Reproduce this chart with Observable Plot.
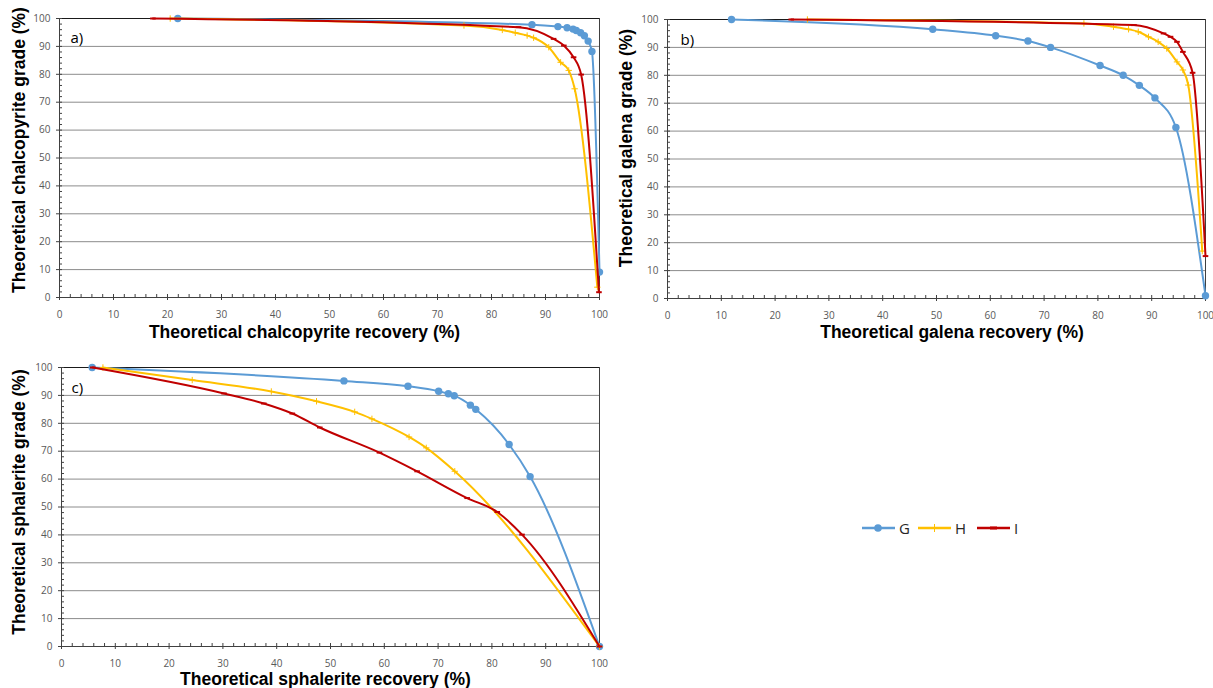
<!DOCTYPE html>
<html>
<head>
<meta charset="utf-8">
<script src="https://cdn.jsdelivr.net/npm/d3@7"></script>
<script src="https://cdn.jsdelivr.net/npm/@observablehq/plot@0.6"></script>
<style>
  body { margin: 0; background: #fff; }
  #fig { position: relative; width: 1213px; height: 688px; overflow: hidden; background: #fff; }
  .panel { position: absolute; }
  .xt, .yt { position: absolute; font-family: "Liberation Sans", Arial, sans-serif; font-weight: bold;
             font-size: 17.5px; color: #000; white-space: nowrap; line-height: 1; }
  .xt { transform: translate(-50%, -50%); }
  .yt { transform: translate(-50%, -50%) rotate(-90deg); }
  .leg { position: absolute; display: flex; align-items: center; font-family: "Open Sans", sans-serif;
         font-size: 15px; color: #262626; height: 20px; }
  .leg svg { display: block; margin-right: 4px; }
</style>
</head>
<body>
<div id="fig"></div>
<script>
// ---- a) chalcopyrite: theoretical recovery (%) vs grade (%)
const chalcoG_rec   = [21.9, 87.5, 92.3, 94.0, 95.1, 95.7, 96.5, 97.2, 97.9, 98.6, 100];
const chalcoG_grade = [100, 97.8, 97.1, 96.7, 96.2, 95.7, 94.9, 93.8, 91.9, 88.2, 9.1];
const chalcoH_rec   = [20.5, 74.9, 82.0, 84.4, 86.6, 87.8, 90.6, 92.8, 94.3, 95.4, 99.6];
const chalcoH_grade = [100, 97.5, 95.9, 94.9, 93.9, 93.1, 89.7, 84.3, 81.4, 74.8, 3.7];
const chalcoI_rec   = [17.3, 85.0, 91.5, 93.4, 95.2, 96.6, 99.9];
const chalcoI_grade = [100, 96.9, 92.7, 90.3, 86.1, 79.9, 1.9];

// ---- b) galena
const galenaG_rec   = [11.9, 49.3, 61.0, 67.0, 71.2, 80.4, 84.7, 87.7, 90.6, 94.5, 100];
const galenaG_grade = [100, 96.5, 94.2, 92.3, 90.0, 83.5, 80.0, 76.4, 71.9, 61.3, 1.0];
const galenaH_rec   = [26.0, 77.4, 82.9, 85.7, 87.5, 89.4, 91.2, 92.8, 94.7, 95.8, 96.8, 99.4];
const galenaH_grade = [100, 98.6, 97.4, 96.5, 95.6, 93.8, 92.0, 89.6, 84.8, 81.9, 76.5, 17.0];
const galenaI_rec   = [23.0, 86.7, 92.2, 93.5, 94.7, 95.8, 97.6, 100];
const galenaI_grade = [100, 98.0, 95.0, 93.8, 92.0, 88.4, 80.9, 15.2];

// ---- c) sphalerite
const sphalG_rec   = [5.7, 52.5, 64.4, 70.1, 71.9, 73.0, 76.0, 77.0, 83.2, 87.1, 100];
const sphalG_grade = [100, 95.2, 93.3, 91.5, 90.6, 89.9, 86.5, 85.0, 72.4, 60.9, 0];
const sphalH_rec   = [7.7, 24.3, 39.0, 47.4, 54.5, 57.7, 64.6, 67.8, 73.1, 100];
const sphalH_grade = [100, 95.5, 91.4, 87.9, 84.1, 81.6, 75.1, 71.2, 62.8, 0];
const sphalI_rec   = [5.8, 30.2, 37.6, 42.9, 48.0, 59.1, 66.1, 75.4, 81.0, 85.6, 100];
const sphalI_grade = [100, 90.7, 87.1, 83.5, 78.5, 69.5, 62.8, 53.2, 48.2, 40.1, 0];

const seriesNames = ["G", "H", "I"];
const seriesColors = ["#5B9BD5", "#FFC000", "#C00000"];
const majorTicks = d3.range(0, 101, 10);
const minorTicks = d3.range(0, 101, 2).filter(v => v % 10 !== 0);

// short horizontal dash used as the marker of series I
const dashSymbol = {
  draw(context, size) {
    const r = Math.sqrt(size / Math.PI);
    context.moveTo(-r, 0);
    context.lineTo(r, 0);
  }
};

function seriesMarks(name, rec, grade, color) {
  const data = d3.zip(rec, grade);
  const line = Plot.line(data, {x: d => d[0], y: d => d[1], stroke: color, strokeWidth: 2, curve: "monotone-x"});
  let dots;
  if (name === "G") dots = Plot.dot(data, {x: d => d[0], y: d => d[1], r: 3.7, fill: color, stroke: "none"});
  else if (name === "H") dots = Plot.dot(data, {x: d => d[0], y: d => d[1], r: 2.2, symbol: "plus", stroke: color, strokeWidth: 1, fill: "none"});
  else dots = Plot.dot(data, {x: d => d[0], y: d => d[1], r: 2.8, symbol: dashSymbol, stroke: color, strokeWidth: 2, fill: "none"});
  return [line, dots];
}

function panel({width, height, ml, mr, mt, mb, tag, tagDx, tagDy, series}) {
  const pw = width - ml - mr, ph = height - mt - mb;
  const allTicks = majorTicks.concat(minorTicks);
  return Plot.plot({
    width, height,
    marginLeft: ml, marginRight: mr, marginTop: mt, marginBottom: mb,
    x: {domain: [0, 100]},
    y: {domain: [0, 100]},
    style: {fontFamily: "Open Sans, sans-serif", fontSize: "10px", color: "#595959", background: "transparent", overflow: "visible"},
    marks: [
      Plot.gridY(majorTicks.filter(v => v > 0 && v < 100), {stroke: "#8c8c8c", strokeOpacity: 1, strokeWidth: 1}),
      Plot.ruleY([100], {stroke: "#1a1a1a", strokeWidth: 1}),
      Plot.ruleX([100], {stroke: "#404040", strokeWidth: 1}),
      // inward tick marks along both axes
      Plot.tickX(allTicks, {x: d => d, insetTop: ph - 3, stroke: "#404040"}),
      Plot.tickY(allTicks, {y: d => d, insetRight: pw - 3, stroke: "#404040"}),
      Plot.axisX({ticks: majorTicks, tickSize: 3, tickPadding: 10, label: null, stroke: "#404040"}),
      Plot.axisY({ticks: majorTicks, tickSize: 3, tickPadding: 6, label: null, stroke: "#404040"}),
      Plot.ruleX([0], {stroke: "#404040"}),
      Plot.ruleY([0], {stroke: "#404040"}),
      Plot.text([tag], {text: d => d, frameAnchor: "top-left", dx: tagDx, dy: tagDy, textAnchor: "start",
                        fontSize: 15, fill: "#000", fontFamily: "Open Sans, sans-serif"}),
      ...series.flatMap(s => seriesMarks(...s))
    ]
  });
}

const fig = document.getElementById("fig");
function place(node, left, top) {
  node.classList.add("panel");
  node.style.left = left + "px";
  node.style.top = top + "px";
  fig.appendChild(node);
}

place(panel({width: 610, height: 325, ml: 59, mr: 11, mt: 18, mb: 28, tag: "a)", tagDx: 11, tagDy: 14,
  series: [["G", chalcoG_rec, chalcoG_grade, seriesColors[0]],
           ["H", chalcoH_rec, chalcoH_grade, seriesColors[1]],
           ["I", chalcoI_rec, chalcoI_grade, seriesColors[2]]]}), 0, 0);

place(panel({width: 605, height: 326, ml: 59, mr: 8, mt: 19, mb: 28, tag: "b)", tagDx: 13, tagDy: 15,
  series: [["G", galenaG_rec, galenaG_grade, seriesColors[0]],
           ["H", galenaH_rec, galenaH_grade, seriesColors[1]],
           ["I", galenaI_rec, galenaI_grade, seriesColors[2]]]}), 608, 0);

place(panel({width: 610, height: 339, ml: 61, mr: 11, mt: 18, mb: 42, tag: "c)", tagDx: 10, tagDy: 15,
  series: [["G", sphalG_rec, sphalG_grade, seriesColors[0]],
           ["H", sphalH_rec, sphalH_grade, seriesColors[1]],
           ["I", sphalI_rec, sphalI_grade, seriesColors[2]]]}), 0, 349);

// axis titles
const titles = [
  ["xt", "Theoretical chalcopyrite recovery (%)", 304.5, 333],
  ["yt", "Theoretical chalcopyrite grade (%)", 20, 150],
  ["xt", "Theoretical galena recovery (%)", 952, 333],
  ["yt", "Theoretical galena grade (%)", 627, 148],
  ["xt", "Theoretical sphalerite recovery (%)", 325.5, 680],
  ["yt", "Theoretical sphalerite grade (%)", 20, 502]
];
for (const [cls, text, cx, cy] of titles) {
  const d = document.createElement("div");
  d.className = cls;
  d.textContent = text;
  d.style.left = cx + "px";
  d.style.top = cy + "px";
  fig.appendChild(d);
}

// legend
const legendLeft = [862, 918, 977];
seriesNames.forEach((name, i) => {
  const item = document.createElement("div");
  item.className = "leg";
  item.style.left = legendLeft[i] + "px";
  item.style.top = "518px";
  const svg = d3.create("svg").attr("width", 33).attr("height", 20);
  svg.append("line").attr("x1", 0).attr("x2", 33).attr("y1", 10).attr("y2", 10)
    .attr("stroke", seriesColors[i]).attr("stroke-width", 2.5);
  if (name === "G") svg.append("circle").attr("cx", 16).attr("cy", 10).attr("r", 3.8).attr("fill", seriesColors[i]);
  if (name === "H") svg.append("line").attr("x1", 16.5).attr("x2", 16.5).attr("y1", 6).attr("y2", 14)
    .attr("stroke", seriesColors[i]).attr("stroke-width", 1);
  if (name === "I") svg.append("line").attr("x1", 13).attr("x2", 20).attr("y1", 10).attr("y2", 10)
    .attr("stroke", seriesColors[i]).attr("stroke-width", 3);
  item.appendChild(svg.node());
  const label = document.createElement("span");
  label.textContent = name;
  item.appendChild(label);
  fig.appendChild(item);
});
</script>
</body>
</html>
